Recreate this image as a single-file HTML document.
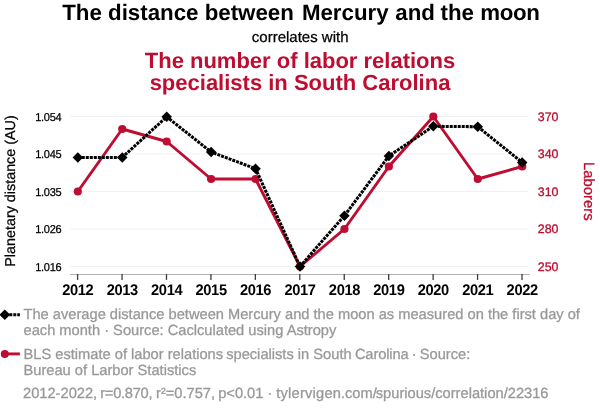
<!DOCTYPE html>
<html><head><meta charset="utf-8">
<style>
html,body{margin:0;padding:0;background:#fff;}
svg{display:block;font-family:"Liberation Sans",sans-serif;will-change:transform;text-rendering:geometricPrecision;}
</style></head>
<body>
<svg width="600" height="414" viewBox="0 0 600 414">
<rect width="600" height="414" fill="#fff"/>
<text x="62.2" y="19.9" font-size="22.3" font-weight="bold" fill="#000">The distance between<tspan dx="1.8"> Mercury</tspan><tspan dx="0.4"> and</tspan><tspan dx="-0.6"> the </tspan><tspan style="letter-spacing:-0.3px">moon</tspan></text>
<text x="300.2" y="42" text-anchor="middle" font-size="15" fill="#000" stroke="#000" stroke-width="0.25">correlates with</text>
<text x="300" y="67.8" text-anchor="middle" font-size="22" font-weight="bold" fill="#be0d30">The number of labor relations</text>
<text x="300" y="89.9" text-anchor="middle" font-size="22" font-weight="bold" fill="#be0d30">specialists in South Carolina</text>
<g stroke="#f1f1f1" stroke-width="1.2">
<line x1="70.5" x2="528" y1="116.5" y2="116.5"/>
<line x1="70.5" x2="528" y1="154" y2="154"/>
<line x1="70.5" x2="528" y1="191.5" y2="191.5"/>
<line x1="70.5" x2="528" y1="229" y2="229"/>
<line x1="70.5" x2="528" y1="266.5" y2="266.5"/>
</g>
<line x1="70" x2="529.7" y1="274.5" y2="274.5" stroke="#b2b2b2" stroke-width="1"/>
<g stroke="#3c3c3c" stroke-width="1.3">
<line x1="77.60" x2="77.60" y1="274" y2="279.9"/>
<line x1="122.04" x2="122.04" y1="274" y2="279.9"/>
<line x1="166.48" x2="166.48" y1="274" y2="279.9"/>
<line x1="210.92" x2="210.92" y1="274" y2="279.9"/>
<line x1="255.36" x2="255.36" y1="274" y2="279.9"/>
<line x1="299.80" x2="299.80" y1="274" y2="279.9"/>
<line x1="344.24" x2="344.24" y1="274" y2="279.9"/>
<line x1="388.68" x2="388.68" y1="274" y2="279.9"/>
<line x1="433.12" x2="433.12" y1="274" y2="279.9"/>
<line x1="477.56" x2="477.56" y1="274" y2="279.9"/>
<line x1="522.00" x2="522.00" y1="274" y2="279.9"/>
</g>
<g font-size="11" fill="#000" stroke="#000" stroke-width="0.25" style="letter-spacing:-0.25px">
<text transform="translate(35.2,121) scale(1,1.04)">1.054</text>
<text transform="translate(35.2,158) scale(1,1.04)">1.045</text>
<text transform="translate(35.2,196) scale(1,1.04)">1.035</text>
<text transform="translate(35.2,233) scale(1,1.04)">1.026</text>
<text transform="translate(35.2,271) scale(1,1.04)">1.016</text>
</g>
<g font-size="12.4" fill="#be0d30" stroke="#be0d30" stroke-width="0.3">
<text x="537.8" y="121">370</text>
<text x="537.8" y="158">340</text>
<text x="537.8" y="196">310</text>
<text x="537.8" y="233">280</text>
<text x="537.8" y="271">250</text>
</g>
<text transform="translate(14.8,191) rotate(-90)" text-anchor="middle" font-size="14.35" fill="#000" stroke="#000" stroke-width="0.25">Planetary distance (AU)</text>
<text transform="translate(584,191.3) rotate(90)" text-anchor="middle" font-size="14.9" fill="#be0d30" stroke="#be0d30" stroke-width="0.3">Laborers</text>
<g font-size="14.67" font-weight="bold" fill="#000" text-anchor="middle" style="letter-spacing:-0.35px">
<text transform="translate(77.80,295) scale(1,1.045)">2012</text>
<text transform="translate(122.24,295) scale(1,1.045)">2013</text>
<text transform="translate(166.68,295) scale(1,1.045)">2014</text>
<text transform="translate(211.12,295) scale(1,1.045)">2015</text>
<text transform="translate(255.56,295) scale(1,1.045)">2016</text>
<text transform="translate(300.00,295) scale(1,1.045)">2017</text>
<text transform="translate(344.44,295) scale(1,1.045)">2018</text>
<text transform="translate(388.88,295) scale(1,1.045)">2019</text>
<text transform="translate(433.32,295) scale(1,1.045)">2020</text>
<text transform="translate(477.76,295) scale(1,1.045)">2021</text>
<text transform="translate(522.20,295) scale(1,1.045)">2022</text>
</g>
<polyline fill="none" stroke="#be0d30" stroke-width="2.9" stroke-linejoin="round" points="77.80,191.50 122.24,129.00 166.68,141.50 211.12,179.00 255.56,179.00 300.00,266.50 344.44,229.00 388.88,166.50 433.32,116.50 477.76,179.00 522.20,166.50"/>
<g fill="#be0d30">
<circle cx="77.80" cy="191.50" r="4.1"/>
<circle cx="122.24" cy="129.00" r="4.1"/>
<circle cx="166.68" cy="141.50" r="4.1"/>
<circle cx="211.12" cy="179.00" r="4.1"/>
<circle cx="255.56" cy="179.00" r="4.1"/>
<circle cx="300.00" cy="266.50" r="4.1"/>
<circle cx="344.44" cy="229.00" r="4.1"/>
<circle cx="388.88" cy="166.50" r="4.1"/>
<circle cx="433.32" cy="116.50" r="4.1"/>
<circle cx="477.76" cy="179.00" r="4.1"/>
<circle cx="522.20" cy="166.50" r="4.1"/>
</g>
<polyline fill="none" stroke="#000" stroke-width="3.05" stroke-dasharray="3,1" points="77.80,157.40 122.24,157.40 166.68,116.80 211.12,152.00 255.56,168.70 300.00,266.50 344.44,215.70 388.88,156.00 433.32,126.30 477.76,126.70 522.20,162.40"/>
<g fill="#000">
<path d="M77.80,152.15 l5.25,5.25 l-5.25,5.25 l-5.25,-5.25z"/>
<path d="M122.24,152.15 l5.25,5.25 l-5.25,5.25 l-5.25,-5.25z"/>
<path d="M166.68,111.55 l5.25,5.25 l-5.25,5.25 l-5.25,-5.25z"/>
<path d="M211.12,146.75 l5.25,5.25 l-5.25,5.25 l-5.25,-5.25z"/>
<path d="M255.56,163.45 l5.25,5.25 l-5.25,5.25 l-5.25,-5.25z"/>
<path d="M300.00,261.25 l5.25,5.25 l-5.25,5.25 l-5.25,-5.25z"/>
<path d="M344.44,210.45 l5.25,5.25 l-5.25,5.25 l-5.25,-5.25z"/>
<path d="M388.88,150.75 l5.25,5.25 l-5.25,5.25 l-5.25,-5.25z"/>
<path d="M433.32,121.05 l5.25,5.25 l-5.25,5.25 l-5.25,-5.25z"/>
<path d="M477.76,121.45 l5.25,5.25 l-5.25,5.25 l-5.25,-5.25z"/>
<path d="M522.20,157.15 l5.25,5.25 l-5.25,5.25 l-5.25,-5.25z"/>
</g>
<g font-size="14.67" fill="#999" stroke="#999" stroke-width="0.3">
<text x="23.5" y="318.8">The average distance between Mercury and the moon as measured on the first day of</text>
<text x="23.5" y="334.7">each month · Source: Caclculated using Astropy</text>
<text x="23.5" y="359">BLS estimate of labor relations<tspan dx="-1"> specialists in South</tspan><tspan dx="-0.8"> </tspan><tspan style="letter-spacing:-0.12px">Carolina</tspan><tspan dx="-1.2"> ·</tspan><tspan dx="-0.6"> Source:</tspan></text>
<text x="23.5" y="374.7">Bureau of Larbor Statistics</text>
<text x="23" y="397.6">2012-2022,<tspan dx="-1"> </tspan><tspan style="letter-spacing:-0.28px">r=0.870,</tspan><tspan dx="-0.25"> r²=0.757,</tspan><tspan dx="-1"> p&lt;0.01</tspan> ·<tspan dx="-0.25"> </tspan><tspan style="letter-spacing:0.22px">tylervigen</tspan><tspan dx="-0.2">.com/</tspan><tspan dx="-1.0">spurious/correlation/22316</tspan></text>
</g>
<line x1="1.3" x2="19.9" y1="314.7" y2="314.7" stroke="#000" stroke-width="2.9" stroke-dasharray="3,1"/>
<path d="M4.8,309.40 l5.3,5.3 l-5.3,5.3 l-5.3,-5.3z" fill="#000"/>
<line x1="1" x2="19.9" y1="353.9" y2="353.9" stroke="#be0d30" stroke-width="2.9"/>
<circle cx="4.8" cy="353.9" r="4" fill="#be0d30"/>
</svg>
</body></html>
